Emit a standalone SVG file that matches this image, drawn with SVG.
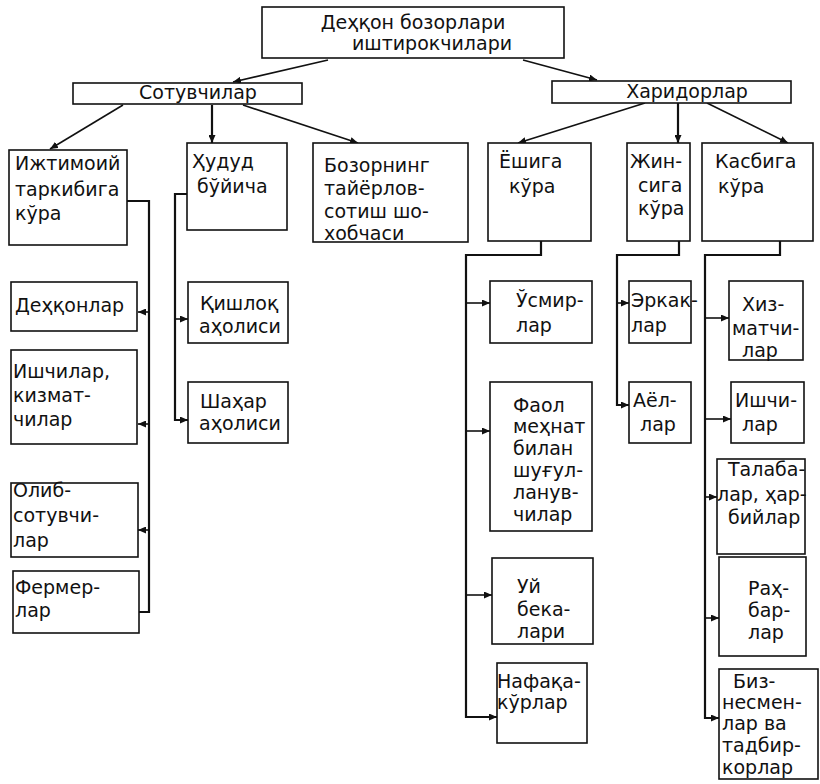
<svg xmlns="http://www.w3.org/2000/svg" width="820" height="784" viewBox="0 0 820 784">
<style>
.b{fill:#fff;stroke:#111;stroke-width:1.6}
.t{font-family:"DejaVu Sans","Noto Sans",sans-serif;font-size:19px;fill:#111}
.c{fill:none;stroke:#111;stroke-width:1.6}
.k{fill:none;stroke:#111;stroke-width:2.2}
</style>
<defs>
<marker id="a" markerUnits="userSpaceOnUse" markerWidth="8" markerHeight="7" refX="8" refY="3.5" orient="auto"><path d="M0,0 L8,3.5 L0,7 z" fill="#111"/></marker>
</defs>
<rect width="820" height="784" fill="#fff"/>
<g id="connectors">
<line class="c" x1="328" y1="60" x2="233" y2="82" marker-end="url(#a)"/>
<line class="c" x1="523" y1="60" x2="597" y2="80" marker-end="url(#a)"/>
<line class="c" x1="123" y1="105" x2="50" y2="149" marker-end="url(#a)"/>
<line class="k" x1="212" y1="105" x2="212" y2="143" marker-end="url(#a)"/>
<line class="c" x1="243" y1="105" x2="358" y2="143" marker-end="url(#a)"/>
<line class="c" x1="645" y1="103" x2="518" y2="143" marker-end="url(#a)"/>
<line class="k" x1="678" y1="103" x2="678" y2="143" marker-end="url(#a)"/>
<line class="c" x1="707" y1="103" x2="788" y2="143" marker-end="url(#a)"/>
<polyline class="k" points="127,201 149,201 149,612 139,612"/>
<line class="c" x1="149" y1="312" x2="138" y2="312" marker-end="url(#a)"/>
<line class="c" x1="149" y1="424" x2="138" y2="424" marker-end="url(#a)"/>
<line class="c" x1="149" y1="530" x2="138" y2="530" marker-end="url(#a)"/>
<polyline class="k" points="187,194 175,194 175,420 188,420" marker-end="url(#a)"/>
<line class="c" x1="175" y1="319" x2="188" y2="319" marker-end="url(#a)"/>
<polyline class="k" points="541,241 541,255 466,255 466,717 497,717" marker-end="url(#a)"/>
<line class="c" x1="466" y1="303" x2="490" y2="303" marker-end="url(#a)"/>
<line class="c" x1="466" y1="431" x2="490" y2="431" marker-end="url(#a)"/>
<line class="c" x1="466" y1="595" x2="492" y2="595" marker-end="url(#a)"/>
<polyline class="k" points="679,241 679,255 617,255 617,405 629,405" marker-end="url(#a)"/>
<line class="c" x1="617" y1="303" x2="629" y2="303" marker-end="url(#a)"/>
<polyline class="k" points="780,241 780,255 705,255 705,718 719,718" marker-end="url(#a)"/>
<line class="c" x1="705" y1="318" x2="729" y2="318" marker-end="url(#a)"/>
<line class="c" x1="705" y1="419" x2="731" y2="419" marker-end="url(#a)"/>
<line class="c" x1="705" y1="497" x2="717" y2="497" marker-end="url(#a)"/>
<line class="c" x1="705" y1="618" x2="719" y2="618" marker-end="url(#a)"/>
</g>
<g id="root"><rect class="b" x="262" y="7" width="302" height="51"/>
<text class="t" x="413" y="29" text-anchor="middle">Деҳқон бозорлари</text>
<text class="t" x="432" y="50" text-anchor="middle">иштирокчилари</text></g>
<g id="sotuvchilar"><rect class="b" x="73" y="83" width="229" height="21"/>
<text class="t" x="198" y="99" text-anchor="middle">Сотувчилар</text></g>
<g id="haridorlar"><rect class="b" x="552" y="81" width="239" height="22"/>
<text class="t" x="687" y="98" text-anchor="middle">Харидорлар</text></g>
<g id="ijtimoiy"><rect class="b" x="9" y="150" width="118" height="95"/>
<text class="t" x="15" y="170">Ижтимоий</text><text class="t" x="15" y="196">таркибига</text><text class="t" x="15" y="220">кўра</text></g>
<g id="hudud"><rect class="b" x="187" y="143" width="100" height="87"/>
<text class="t" x="192" y="168">Ҳудуд</text><text class="t" x="197" y="193">бўйича</text></g>
<g id="bozorning"><rect class="b" x="313" y="143" width="155" height="99"/>
<text class="t" x="324" y="172">Бозорнинг</text><text class="t" x="324" y="195">тайёрлов-</text><text class="t" x="324" y="218">сотиш шо-</text><text class="t" x="324" y="240">хобчаси</text></g>
<g id="yoshiga"><rect class="b" x="488" y="143" width="103" height="98"/>
<text class="t" x="499" y="168">Ёшига</text><text class="t" x="509" y="193">кўра</text></g>
<g id="jinsiga"><rect class="b" x="627" y="143" width="63" height="98"/>
<text class="t" x="630" y="168">Жин-</text><text class="t" x="638" y="192">сига</text><text class="t" x="638" y="215">кўра</text></g>
<g id="kasbiga"><rect class="b" x="702" y="143" width="111" height="98"/>
<text class="t" x="715" y="168">Касбига</text><text class="t" x="718" y="193">кўра</text></g>
<g id="dehqonlar"><rect class="b" x="11" y="282" width="126" height="49"/>
<text class="t" x="15" y="312">Деҳқонлар</text></g>
<g id="ishchilar1"><rect class="b" x="11" y="350" width="126" height="94"/>
<text class="t" x="13" y="378">Ишчилар,</text><text class="t" x="13" y="402">кизмат-</text><text class="t" x="13" y="426">чилар</text></g>
<g id="olib"><rect class="b" x="11" y="483" width="127" height="74"/>
<text class="t" x="13" y="497">Олиб-</text><text class="t" x="13" y="522">сотувчи-</text><text class="t" x="13" y="547">лар</text></g>
<g id="fermer"><rect class="b" x="13" y="571" width="126" height="62"/>
<text class="t" x="15" y="594">Фермер-</text><text class="t" x="15" y="617">лар</text></g>
<g id="qishloq"><rect class="b" x="188" y="282" width="100" height="61"/>
<text class="t" x="200" y="310">Қишлоқ</text><text class="t" x="199" y="333">аҳолиси</text></g>
<g id="shahar"><rect class="b" x="188" y="382" width="100" height="61"/>
<text class="t" x="200" y="408">Шаҳар</text><text class="t" x="199" y="430">аҳолиси</text></g>
<g id="usmir"><rect class="b" x="490" y="281" width="102" height="62"/>
<text class="t" x="516" y="307">Ўсмир-</text><text class="t" x="516" y="332">лар</text></g>
<g id="faol"><rect class="b" x="490" y="382" width="102" height="149"/>
<text class="t" x="513" y="412">Фаол</text><text class="t" x="513" y="433">меҳнат</text><text class="t" x="513" y="455">билан</text><text class="t" x="513" y="477">шуғул-</text><text class="t" x="513" y="499">ланув-</text><text class="t" x="513" y="521">чилар</text></g>
<g id="uy"><rect class="b" x="492" y="558" width="101" height="86"/>
<text class="t" x="517" y="593">Уй</text><text class="t" x="517" y="616">бека-</text><text class="t" x="517" y="638">лари</text></g>
<g id="nafaqa"><rect class="b" x="497" y="663" width="90" height="80"/>
<text class="t" x="497" y="688">Нафақа-</text><text class="t" x="497" y="709">кўрлар</text></g>
<g id="erkak"><rect class="b" x="629" y="281" width="62" height="62"/>
<text class="t" x="631" y="307">Эркак-</text><text class="t" x="631" y="332">лар</text></g>
<g id="ayol"><rect class="b" x="629" y="382" width="62" height="61"/>
<text class="t" x="633" y="407">Аёл-</text><text class="t" x="640" y="431">лар</text></g>
<g id="hizmatchilar"><rect class="b" x="729" y="281" width="74" height="79"/>
<text class="t" x="742" y="311">Хиз-</text><text class="t" x="732" y="335">матчи-</text><text class="t" x="742" y="357">лар</text></g>
<g id="ishchilar2"><rect class="b" x="731" y="382" width="73" height="61"/>
<text class="t" x="735" y="407">Ишчи-</text><text class="t" x="742" y="431">лар</text></g>
<g id="talabalar"><rect class="b" x="717" y="459" width="88" height="95"/>
<text class="t" x="728" y="476">Талаба-</text><text class="t" x="717" y="501">лар, ҳар-</text><text class="t" x="728" y="524">бийлар</text></g>
<g id="rahbarlar"><rect class="b" x="719" y="557" width="87" height="99"/>
<text class="t" x="748" y="595">Раҳ-</text><text class="t" x="748" y="617">бар-</text><text class="t" x="748" y="639">лар</text></g>
<g id="biznesmenlar"><rect class="b" x="719" y="669" width="99" height="110"/>
<text class="t" x="733" y="688">Биз-</text><text class="t" x="722" y="709">несмен-</text><text class="t" x="722" y="730">лар ва</text><text class="t" x="722" y="752">тадбир-</text><text class="t" x="722" y="774">корлар</text></g>
</svg>
